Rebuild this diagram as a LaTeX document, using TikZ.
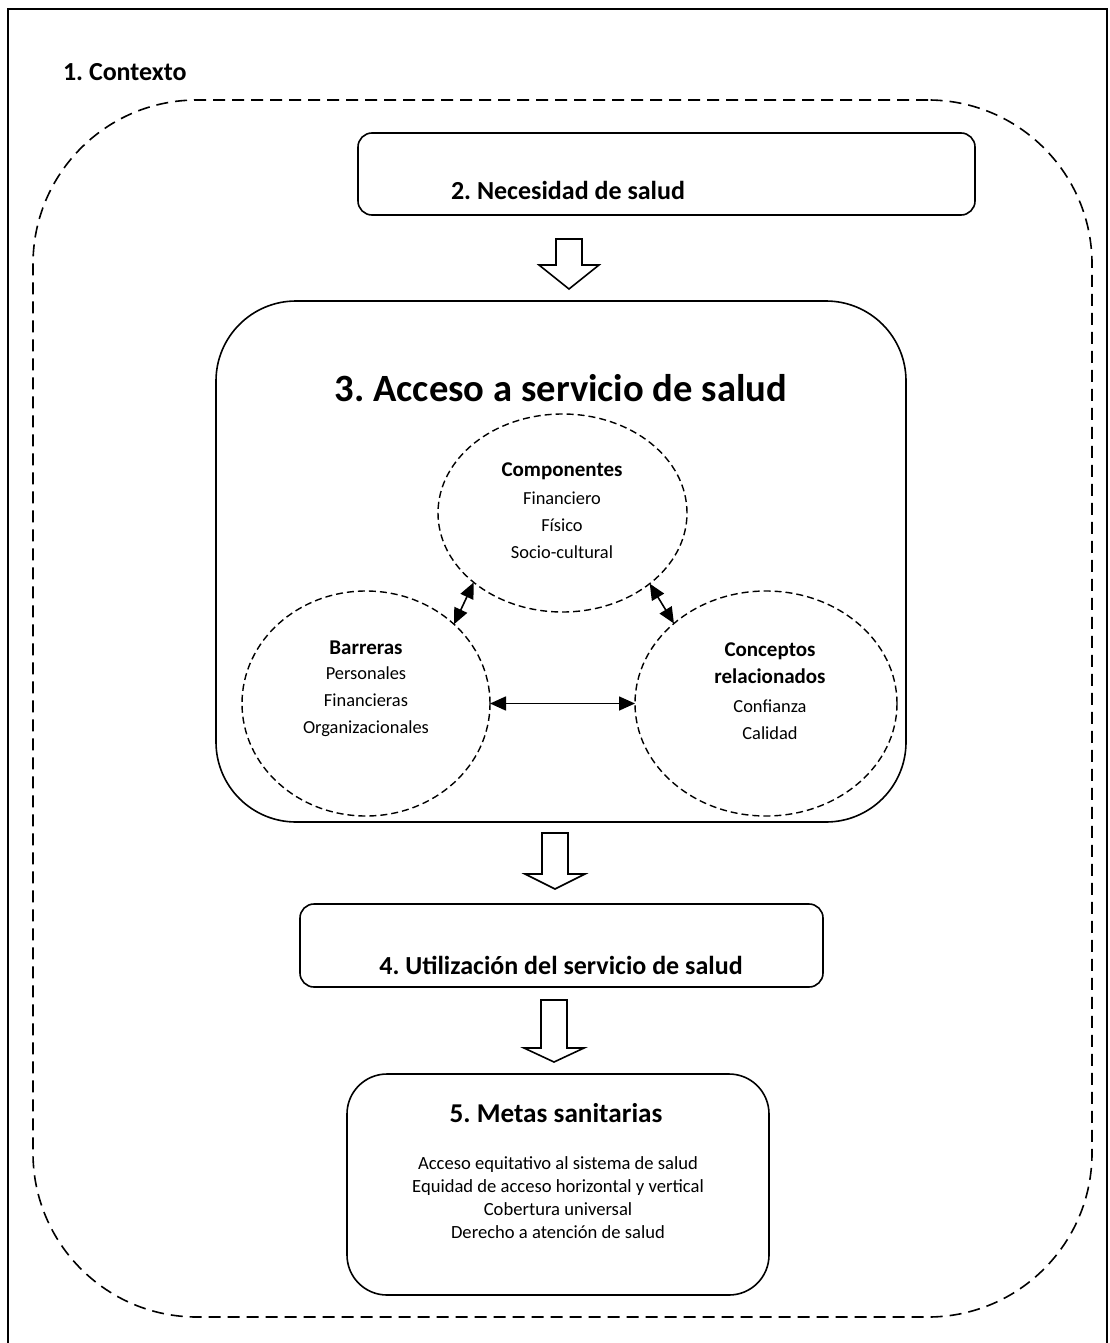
\documentclass[tikz,border=0pt]{standalone}
\usepackage{fontspec}
\setmainfont{Carlito}
\usetikzlibrary{shapes.geometric,arrows.meta,calc}
\frenchspacing

% hollow block arrow pointing down: #1 top of shaft, #2 tip, #3 head length
\newcommand\hollowdown[3]{%
  \draw[blockarrow] let \p1=(#1), \p2=(#2) in
    (\x1-6.5pt,\y1) -- (\x1+6.5pt,\y1) -- (\x1+6.5pt,\y2+#3) -- (\x1+15pt,\y2+#3)
    -- (\x2,\y2) -- (\x1-15pt,\y2+#3) -- (\x1-6.5pt,\y2+#3) -- cycle;}

\begin{document}
\begin{tikzpicture}[x=0.5pt,y=-0.5pt,
  every node/.style={inner sep=0pt,outer sep=0pt},
  outerframe/.style={draw,line width=1.2pt},
  zone/.style={draw,rectangle,line width=0.8pt,dash pattern=on 6pt off 3.5pt,rounded corners=82pt},
  stage/.style={draw,rectangle,line width=0.8pt,rounded corners=7pt},
  bubble/.style={draw,ellipse,line width=0.7pt,dash pattern=on 3.5pt off 2pt},
  labelbold/.style={font=\fontsize{13}{15}\selectfont\bfseries},
  bigtitle/.style={font=\fontsize{19.3}{23}\selectfont\bfseries},
  subhead/.style={font=\fontsize{10.5}{13.5}\selectfont\bfseries,align=center},
  bodytext/.style={font=\fontsize{9.2}{13.5}\selectfont,align=center},
  duallink/.style={line width=0.8pt,{Triangle[length=8pt,width=7pt]}-{Triangle[length=8pt,width=7pt]}},
  blockarrow/.style={draw,line width=0.8pt,fill=white,line join=miter}]

\useasboundingbox (0,0) rectangle (1109,1343);

% outer frame (open at the bottom edge of the page)
\draw[outerframe] (8,1343) -- (8,9) -- (1107,9) -- (1107,1343);
\node[labelbold,anchor=west] (ctxlabel) at (63,72) {1. Contexto};

% dashed context region
\node[zone,minimum width=529.5pt,minimum height=608.5pt] (ctx) at (562.5,708.5) {};

% 2. health need
\node[stage,minimum width=308.5pt,minimum height=41pt] (need) at (666.5,174) {};
\node[labelbold] (needtxt) at (568,190) {2. Necesidad de salud};

% 3. access to health services
\node[stage,rounded corners=40pt,minimum width=345pt,minimum height=260.5pt] (access) at (561,561.5) {};
\node[bigtitle] (accesstxt) at (561,388) {3. Acceso a servicio de salud};

\node[bubble,minimum width=124.5pt,minimum height=99pt] (comp) at (562.5,513) {};
\node[subhead] (comph) at (562,471) {Componentes};
\node[bodytext] (compb) at (562,525) {Financiero\\F\'isico\\Socio-cultural};

\node[bubble,minimum width=124pt,minimum height=112.5pt] (barr) at (366,703.5) {};
\node[subhead] (barrh) at (366,648) {Barreras};
\node[bodytext] (barrb) at (366,702) {Personales\\Financieras\\Organizacionales};

\node[bubble,minimum width=131pt,minimum height=112.5pt] (conc) at (766,703.5) {};
\node[subhead] (conch) at (770,663) {Conceptos\\relacionados};
\node[bodytext] (concb) at (770,720) {Confianza\\Calidad};

\draw[duallink] (comp.218) -- (barr.42);
\draw[duallink] (comp.321) -- (conc.139);
\draw[duallink] (barr.east) -- (conc.west);

% 4. use of health services
\node[stage,minimum width=261.5pt,minimum height=41.5pt] (use) at (561.5,945.5) {};
\node[labelbold] (usetxt) at (561,965) {4. Utilizaci\'on del servicio de salud};

% 5. health goals
\node[stage,rounded corners=20pt,minimum width=211pt,minimum height=110.5pt] (goals) at (558,1184.5) {};
\node[font=\fontsize{13.6}{16}\selectfont\bfseries] (goalstxt) at (556,1113) {5. Metas sanitarias};
\node[font=\fontsize{9.3}{11.5}\selectfont,align=center] (goalsb) at (558,1197.5)
  {Acceso equitativo al sistema de salud\\Equidad de acceso horizontal y vertical\\Cobertura universal\\Derecho a atenci\'on de salud};

% flow arrows between the stages
\coordinate (a1top) at (569,239);  \coordinate (a1tip) at (569,289);
\coordinate (a2top) at (555,833);  \coordinate (a2tip) at (555,889);
\coordinate (a3top) at (554,1000); \coordinate (a3tip) at (554,1062);
\hollowdown{a1top}{a1tip}{12pt}
\hollowdown{a2top}{a2tip}{7.5pt}
\hollowdown{a3top}{a3tip}{7pt}
\end{tikzpicture}
\end{document}
